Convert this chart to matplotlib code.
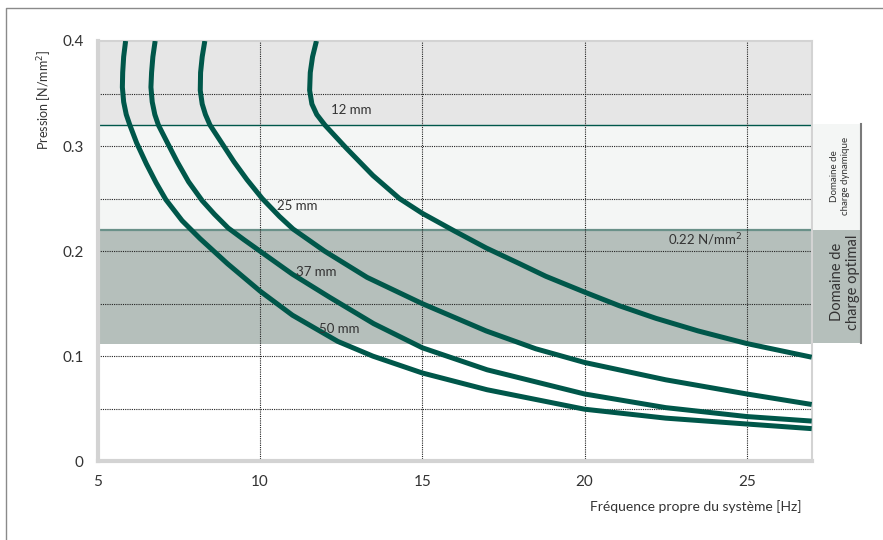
import matplotlib
matplotlib.use("Agg")
import matplotlib.pyplot as plt
from matplotlib.patches import Rectangle
from matplotlib.lines import Line2D

plt.rcParams['font.family'] = ['Lato', 'DejaVu Sans']

# curve data: frequency [Hz] vs pressure [N/mm2]
f_50 = [5.86, 5.80, 5.77, 5.76, 5.80, 5.88, 5.99, 6.2, 6.5, 6.8, 7.1, 7.6, 8.15, 9.0,
        10.0, 11.0, 12.4, 13.48, 15.0, 17.0, 20.0, 22.5, 25.0, 27.0]
p_50 = [0.40, 0.385, 0.37, 0.356, 0.342, 0.33, 0.32, 0.303, 0.283, 0.265, 0.249, 0.229,
        0.212, 0.188, 0.162, 0.139, 0.114, 0.1, 0.084, 0.068, 0.0495, 0.041, 0.0354, 0.031]

f_37 = [6.77, 6.70, 6.66, 6.64, 6.68, 6.76, 6.87, 7.15, 7.45, 7.8, 8.22, 8.6, 9.02, 9.5,
        10.0, 11.0, 12.15, 13.5, 15.0, 17.0, 20.0, 22.5, 25.0, 27.0]
p_37 = [0.40, 0.385, 0.37, 0.356, 0.342, 0.33, 0.32, 0.303, 0.285, 0.266, 0.248, 0.235,
        0.222, 0.211, 0.2, 0.178, 0.156, 0.131, 0.108, 0.087, 0.064, 0.051, 0.0425, 0.0382]

f_25 = [8.30, 8.22, 8.17, 8.16, 8.22, 8.32, 8.46, 8.82, 9.2, 9.6, 10.07, 10.6, 11.02,
        11.99, 13.3, 15.0, 16.97, 18.5, 20.0, 22.5, 25.0, 27.0]
p_25 = [0.40, 0.385, 0.37, 0.353, 0.34, 0.33, 0.32, 0.303, 0.285, 0.268, 0.25, 0.233,
        0.221, 0.2, 0.175, 0.15, 0.124, 0.107, 0.094, 0.0775, 0.064, 0.054]

f_12 = [11.74, 11.62, 11.55, 11.53, 11.6, 11.75, 12.0, 12.66, 13.48, 14.3, 15.0, 16.0,
        16.97, 18.0, 18.81, 20.0, 21.07, 22.2, 23.5, 25.0, 27.0]
p_12 = [0.40, 0.385, 0.37, 0.353, 0.34, 0.33, 0.32, 0.298, 0.272, 0.25, 0.236, 0.219,
        0.203, 0.188, 0.176, 0.161, 0.148, 0.136, 0.124, 0.112, 0.099]

curve_labels = ['12 mm', '25 mm', '37 mm', '50 mm']
label_pos = [(12.8, 0.334), (11.16, 0.243), (11.73, 0.18), (12.43, 0.126)]

# load ranges
band_dyn = (0.22, 0.32)
band_opt = (0.112, 0.22)
band_top = (0.32, 0.40)

xticks = [5, 10, 15, 20, 25]
yticks = [0, 0.1, 0.2, 0.3, 0.4]

W, H = 883, 540
fig = plt.figure(figsize=(W / 100, H / 100), dpi=100)
ax = fig.add_axes([97.7 / W, 1 - 461.2 / H, (811.7 - 97.7) / W, (461.2 - 41) / H])

green = '#00574a'
txt = '#333333'

ax.set_xlim(5, 27)
ax.set_ylim(0, 0.4)

# background bands
ax.axhspan(*band_top, color='#e6e6e6', zorder=0, lw=0)
ax.axhspan(*band_dyn, color='#f4f6f5', zorder=0, lw=0)
ax.axhspan(*band_opt, color='#b5bfbb', zorder=0, lw=0)
ax.axhline(0.32, color=green, lw=1.0, zorder=1)
ax.axhline(0.22, color='#6a9189', lw=1.6, zorder=1)

# dotted grid
for x in [10, 15, 20, 25]:
    ax.axvline(x, color='#222222', lw=0.8, ls=(0, (1, 1)), zorder=1)
for y in [0.05, 0.1, 0.15, 0.2, 0.25, 0.3, 0.35]:
    ax.axhline(y, color='#222222', lw=0.8, ls=(0, (1, 1)), zorder=1)

for fx, py in [(f_12, p_12), (f_25, p_25), (f_37, p_37), (f_50, p_50)]:
    ax.plot(fx, py, color=green, lw=3.6, solid_capstyle='butt',
            solid_joinstyle='round', zorder=3)

for lab, (lx, ly) in zip(curve_labels, label_pos):
    ax.text(lx, ly, lab, ha='center', va='center', fontsize=9.5, color=txt, zorder=4)
ax.text(24.87, 0.211, '0.22 N/mm$^2$', ha='right', va='center', fontsize=9.5, color=txt, zorder=4)

ax.set_xticks(xticks)
ax.set_xticklabels([str(v) for v in xticks])
ax.set_yticks(yticks)
ax.set_yticklabels(['0', '0.1', '0.2', '0.3', '0.4'])
ax.tick_params(length=0, pad=10, labelsize=11, labelcolor=txt)

for side, w in [('left', 3.0), ('bottom', 3.0), ('top', 1.5), ('right', 1.5)]:
    ax.spines[side].set_color('#d3d3d3')
    ax.spines[side].set_linewidth(w)

# right-side range boxes (figure pixel coords)
def fig_box(x0, y0, x1, y1, color):
    fig.patches.append(Rectangle((x0 / W, 1 - y1 / H), (x1 - x0) / W, (y1 - y0) / H,
                                 transform=fig.transFigure, facecolor=color, edgecolor='none'))

fig_box(813, 124.3, 861, 230, '#f4f6f5')
fig_box(813, 230, 861, 343.3, '#b5bfbb')
fig.lines.append(Line2D([861 / W, 861 / W], [1 - 124.3 / H, 1 - 343.3 / H],
                        transform=fig.transFigure, color='#7a7a7a', lw=1.5))
fig.text(840 / W, 1 - 176 / H, 'Domaine de\ncharge dynamique', rotation=90, ha='center',
         va='center', fontsize=7, color=txt, linespacing=1.2)
fig.text(845 / W, 1 - 282 / H, 'Domaine de\ncharge optimal', rotation=90, ha='center',
         va='center', fontsize=10.5, color=txt, linespacing=1.1)

# axis titles
fig.text(45 / W, 1 - 100 / H, 'Pression [N/mm$^2$]', rotation=90, ha='center', va='center',
         fontsize=9, color=txt)
fig.text(802 / W, 1 - 507 / H, 'Fréquence propre du système [Hz]', ha='right', va='center',
         fontsize=10, color=txt)

# outer frame
fig.lines.append(Line2D([6 / W, 6 / W, 1.0], [0.0, 1 - 8.3 / H, 1 - 8.3 / H],
                        transform=fig.transFigure, color='#8a8a8a', lw=1.0))

fig.savefig('out.png', dpi=100)
